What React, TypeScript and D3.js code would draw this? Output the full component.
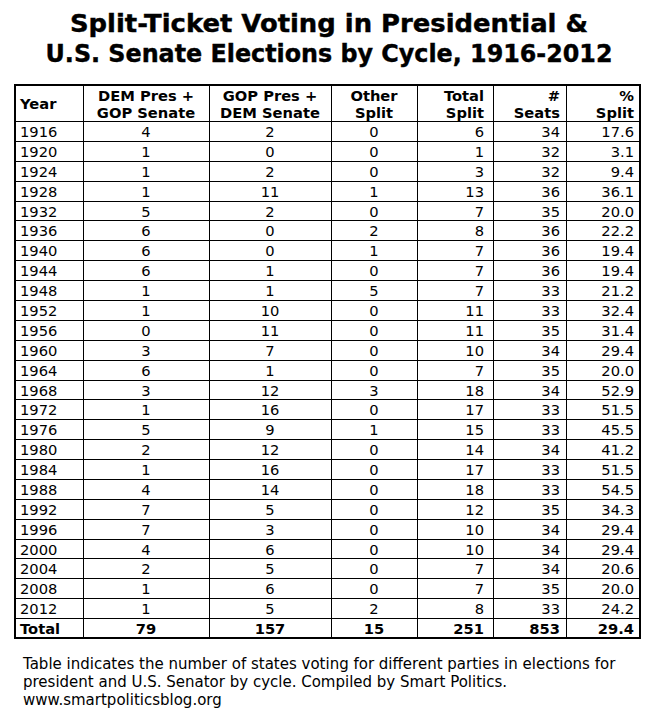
import React from "react";
import * as d3 from "d3";

const years = [1916, 1920, 1924, 1928, 1932, 1936, 1940, 1944, 1948, 1952, 1956, 1960, 1964, 1968, 1972, 1976, 1980, 1984, 1988, 1992, 1996, 2000, 2004, 2008, 2012];
const demPresGopSen = [4, 1, 1, 1, 5, 6, 6, 6, 1, 1, 0, 3, 6, 3, 1, 5, 2, 1, 4, 7, 7, 4, 2, 1, 1];
const gopPresDemSen = [2, 0, 2, 11, 2, 0, 0, 1, 1, 10, 11, 7, 1, 12, 16, 9, 12, 16, 14, 5, 3, 6, 5, 6, 5];
const otherSplit = [0, 0, 0, 1, 0, 2, 1, 0, 5, 0, 0, 0, 0, 3, 0, 1, 0, 0, 0, 0, 0, 0, 0, 0, 2];
const totalSplit = [6, 1, 3, 13, 7, 8, 7, 7, 7, 11, 11, 10, 7, 18, 17, 15, 14, 17, 18, 12, 10, 10, 7, 7, 8];
const seats = [34, 32, 32, 36, 35, 36, 36, 36, 33, 33, 35, 34, 35, 34, 33, 33, 34, 33, 33, 35, 34, 34, 34, 35, 33];
const pctSplit = [17.6, 3.1, 9.4, 36.1, 20.0, 22.2, 19.4, 19.4, 21.2, 32.4, 31.4, 29.4, 20.0, 52.9, 51.5, 45.5, 41.2, 51.5, 54.5, 34.3, 29.4, 29.4, 20.6, 20.0, 24.2];
const totalsRow = ["Total", "79", "157", "15", "251", "853", "29.4"];

const headers: string[][] = [["Year"], ["DEM Pres +", "GOP Senate"], ["GOP Pres +", "DEM Senate"], ["Other", "Split"], ["Total", "Split"], ["#", "Seats"], ["%", "Split"]];
const aligns = ["left", "center", "center", "center", "right", "right", "right"];
const titleLines = ["Split-Ticket Voting in Presidential &", "U.S. Senate Elections by Cycle, 1916-2012"];
const footLines = [
  "Table indicates the number of states voting for different parties in elections for",
  "president and U.S. Senator by cycle. Compiled by Smart Politics.",
  "www.smartpoliticsblog.org",
];

export default function App() {
  const W = 656, H = 717;
  const colEdges = [15, 83, 209, 331, 417, 493, 566, 640];
  const rightPad = [0, 0, 0, 0, 9, 6, 6];
  const headTop = 85, headBottom = 121, tableBottom = 638;
  const nRows = years.length + 1;
  const y = d3.scaleLinear().domain([0, nRows]).range([headBottom, tableBottom]);
  const fmt = d3.format(".1f");
  const rows: string[][] = years.map((yr, i) => [
    String(yr), String(demPresGopSen[i]), String(gopPresDemSen[i]), String(otherSplit[i]),
    String(totalSplit[i]), String(seats[i]), fmt(pctSplit[i]),
  ]);
  rows.push(totalsRow);
  const font = "Verdana, 'DejaVu Sans', sans-serif";
  const fs = 14.7;
  const tx = (c: number) => {
    const a = aligns[c];
    if (a === "left") return colEdges[c] + 5;
    if (a === "center") return (colEdges[c] + colEdges[c + 1]) / 2;
    return colEdges[c + 1] - rightPad[c];
  };
  const anchor = (c: number) => (aligns[c] === "left" ? "start" : aligns[c] === "center" ? "middle" : "end");
  return (
    <svg width={W} height={H} style={{ position: "absolute", left: 0, top: 0, background: "#fff" }} fontFamily={font}>
      <rect x={0} y={0} width={W} height={H} fill="#fff" />
      {titleLines.map((t, i) => (
        <text key={i} x={329} y={32 + i * 30} textAnchor="middle" fontSize={24} fontWeight="bold"
          fontFamily="Tahoma, 'DejaVu Sans', sans-serif" textLength={i === 0 ? 518 : 567} lengthAdjust="spacingAndGlyphs"
          stroke="#000" strokeWidth={0.4}>{t}</text>
      ))}
      {headers.map((h, c) => (
        <text key={c} x={tx(c)} textAnchor={anchor(c)} fontSize={fs} fontWeight="bold">
          {h.length === 1 ? <tspan x={tx(c)} y={109}>{h[0]}</tspan> : h.map((l, k) => (
            <tspan key={k} x={tx(c)} y={101 + k * 17}>{l}</tspan>
          ))}
        </text>
      ))}
      {rows.map((r, i) => r.map((v, c) => (
        <text key={i + "-" + c} x={tx(c)} y={y(i) + 16} textAnchor={anchor(c)} fontSize={fs}
          fontWeight={i === rows.length - 1 ? "bold" : "normal"}>{v}</text>
      )))}
      {d3.range(0, nRows + 1).map((i) => (
        <line key={"h" + i} x1={colEdges[0]} x2={colEdges[7]} y1={Math.round(y(i)) + 0.5} y2={Math.round(y(i)) + 0.5} stroke="#000" strokeWidth={1} />
      ))}
      {colEdges.slice(1, -1).map((x, i) => (
        <line key={"v" + i} x1={x + 0.5} x2={x + 0.5} y1={headTop} y2={tableBottom} stroke="#000" strokeWidth={1} />
      ))}
      <rect x={colEdges[0]} y={headTop} width={colEdges[7] - colEdges[0]} height={tableBottom - headTop} fill="none" stroke="#000" strokeWidth={2} />
      {footLines.map((t, i) => (
        <text key={i} x={23} y={669 + i * 18} fontSize={15}>{t}</text>
      ))}
    </svg>
  );
}
